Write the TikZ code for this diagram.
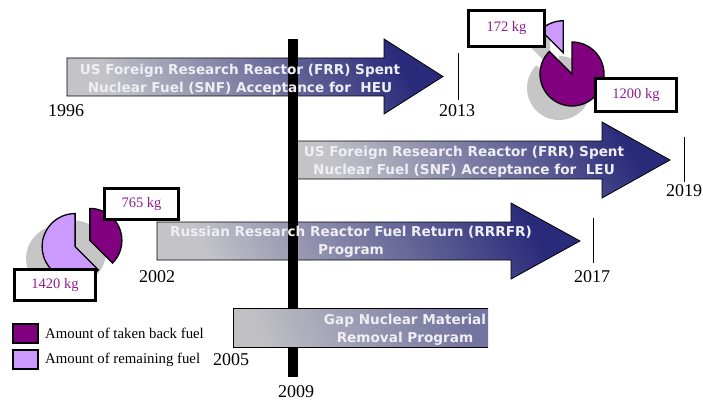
\documentclass[tikz,border=0pt]{standalone}
\usepackage{fontspec}
\setmainfont{Liberation Serif}
\newfontfamily\bandfont{DejaVu Sans}
\definecolor{taken}{HTML}{800080}
\definecolor{remain}{HTML}{CC99FF}
\definecolor{shadowgray}{HTML}{C6C6C6}
\definecolor{arrowlight}{HTML}{C4C4C8}
\definecolor{arrowmid}{HTML}{8E8EAA}
\definecolor{arrowdark}{HTML}{2A2A7A}
\definecolor{boxtext}{HTML}{8E1E8E}
\definecolor{bandtext}{HTML}{EEEEF4}
\definecolor{gaplight}{HTML}{C0C0C4}
\definecolor{gapmid}{HTML}{A2A2B4}
\definecolor{gapdark}{HTML}{7474A0}
\begin{document}
\begin{tikzpicture}[x=1pt,y=-1pt,
  year/.style={font=\fontsize{18}{20}\selectfont, inner sep=0pt},
  bandarrow/.style={draw=black, line width=0.8pt, left color=arrowlight, middle color=arrowmid, right color=arrowdark, shading angle=118},
  bandtxt/.style={font=\bandfont\bfseries\fontsize{13.6}{18}\selectfont, text=bandtext, align=center, inner sep=0pt},
  kgbox/.style={draw=black, line width=2.8pt, fill=white, inner sep=0pt, font=\fontsize{14.5}{16}\selectfont, text=boxtext},
  ticmark/.style={draw=black, line width=0.9pt},
  slice/.style={draw=black, line width=1.3pt},
  legendbox/.style={draw=black, line width=1.2pt, minimum width=25pt, minimum height=19pt, inner sep=0pt},
  legendtxt/.style={font=\fontsize{14.8}{16}\selectfont, anchor=west, inner sep=0pt}
]
\useasboundingbox (0,0) rectangle (703,401);

% ---- pie top right ----
\begin{scope}[shift={(572,74)}, y=1pt]
  \fill[shadowgray, shift={(-13,-14)}] (0,0) -- (135:32) arc[start angle=135, end angle=450, radius=32] -- cycle;
  \fill[shadowgray, shift={(-13,-14)}, shift={(112.5:23)}] (0,0) -- (90:32) arc[start angle=90, end angle=135, radius=32] -- cycle;
  \filldraw[slice, fill=taken] (0,0) -- (135:32) arc[start angle=135, end angle=450, radius=32] -- cycle;
  \filldraw[slice, fill=remain, shift={(112.5:23)}] (0,0) -- (90:32) arc[start angle=90, end angle=135, radius=32] -- cycle;
\end{scope}

% ---- pie bottom left ----
\begin{scope}[shift={(82.5,243.5)}, y=1pt]
  \fill[shadowgray, shift={(-16,-12)}, shift={(22.5:8)}] (0,0) -- (-45:32) arc[start angle=-45, end angle=90, radius=32] -- cycle;
  \fill[shadowgray, shift={(-16,-12)}, shift={(202.5:8)}] (0,0) -- (90:33) arc[start angle=90, end angle=315, radius=33] -- cycle;
  \filldraw[slice, fill=remain, shift={(202.5:8)}] (0,0) -- (90:33) arc[start angle=90, end angle=315, radius=33] -- cycle;
  \filldraw[slice, fill=taken, shift={(22.5:8)}] (0,0) -- (-45:32) arc[start angle=-45, end angle=90, radius=32] -- cycle;
\end{scope}

% ---- arrows ----
\path[bandarrow] (67,58) -- (384,58) -- (384,39) -- (443,76.5) -- (384,114) -- (384,96) -- (67,96) -- cycle;
\path[bandarrow] (157,222) -- (511,222) -- (511,203) -- (580,241) -- (511,279) -- (511,260) -- (157,260) -- cycle;
\path[bandarrow] (295,141) -- (602,141) -- (602,122) -- (670,160) -- (602,198) -- (602,179) -- (295,179) -- cycle;

% ---- timeline bar ----
\fill[black] (288,39) rectangle (298,377);

% ---- gap box ----
\shade[left color=gaplight, middle color=gapmid, right color=gapdark, shading angle=110] (233,308) rectangle (488,347);
\draw[black, line width=0.8pt] (488,308) -- (233,308) -- (233,347) -- (488,347);

% ---- band texts ----
\node[bandtxt] (heu) at (240,79.5) {US Foreign Research Reactor (FRR) Spent\\Nuclear Fuel (SNF) Acceptance for\ \ HEU};
\node[bandtxt] (leu) at (464,162) {US Foreign Research Reactor (FRR) Spent\\Nuclear Fuel (SNF) Acceptance for\ \ LEU};
\node[bandtxt] (rrrfr) at (351,242) {Russian Research Reactor Fuel Return (RRRFR)\\Program};
\node[bandtxt] (gap) at (405,329.5) {Gap Nuclear Material\\Removal Program};

% ---- ticks ----
\coordinate (t13a) at (458,53);  \coordinate (t13b) at (458,100);
\coordinate (t19a) at (684,137); \coordinate (t19b) at (684,182);
\coordinate (t17a) at (593,218); \coordinate (t17b) at (593,263);
\draw[ticmark] (t13a) -- (t13b);
\draw[ticmark] (t19a) -- (t19b);
\draw[ticmark] (t17a) -- (t17b);

% ---- years ----
\node[year] (y1996) at (66,111) {1996};
\node[year] (y2013) at (457,111) {2013};
\node[year] (y2019) at (684,191) {2019};
\node[year] (y2002) at (157,277) {2002};
\node[year] (y2017) at (592,277) {2017};
\node[year] (y2005) at (231,360) {2005};
\node[year] (y2009) at (296,391.5) {2009};

% ---- kg boxes ----
\node[kgbox, minimum width=76pt, minimum height=36pt] (k172) at (506.5,28.5) {172 kg};
\node[kgbox, minimum width=81pt, minimum height=33pt] (k1200) at (636,95) {1200 kg};
\node[kgbox, minimum width=74pt, minimum height=31pt] (k765) at (141.5,204) {765 kg};
\node[kgbox, minimum width=81pt, minimum height=31pt] (k1420) at (55,285) {1420 kg};

% ---- legend ----
\node[legendbox, fill=taken] (lg1) at (25.5,333.5) {};
\node[legendbox, fill=remain] (lg2) at (25.5,359.5) {};
\node[legendtxt] (lt1) at (45,333) {Amount of taken back fuel};
\node[legendtxt] (lt2) at (45,360) {Amount of remaining fuel};
\end{tikzpicture}
\end{document}
